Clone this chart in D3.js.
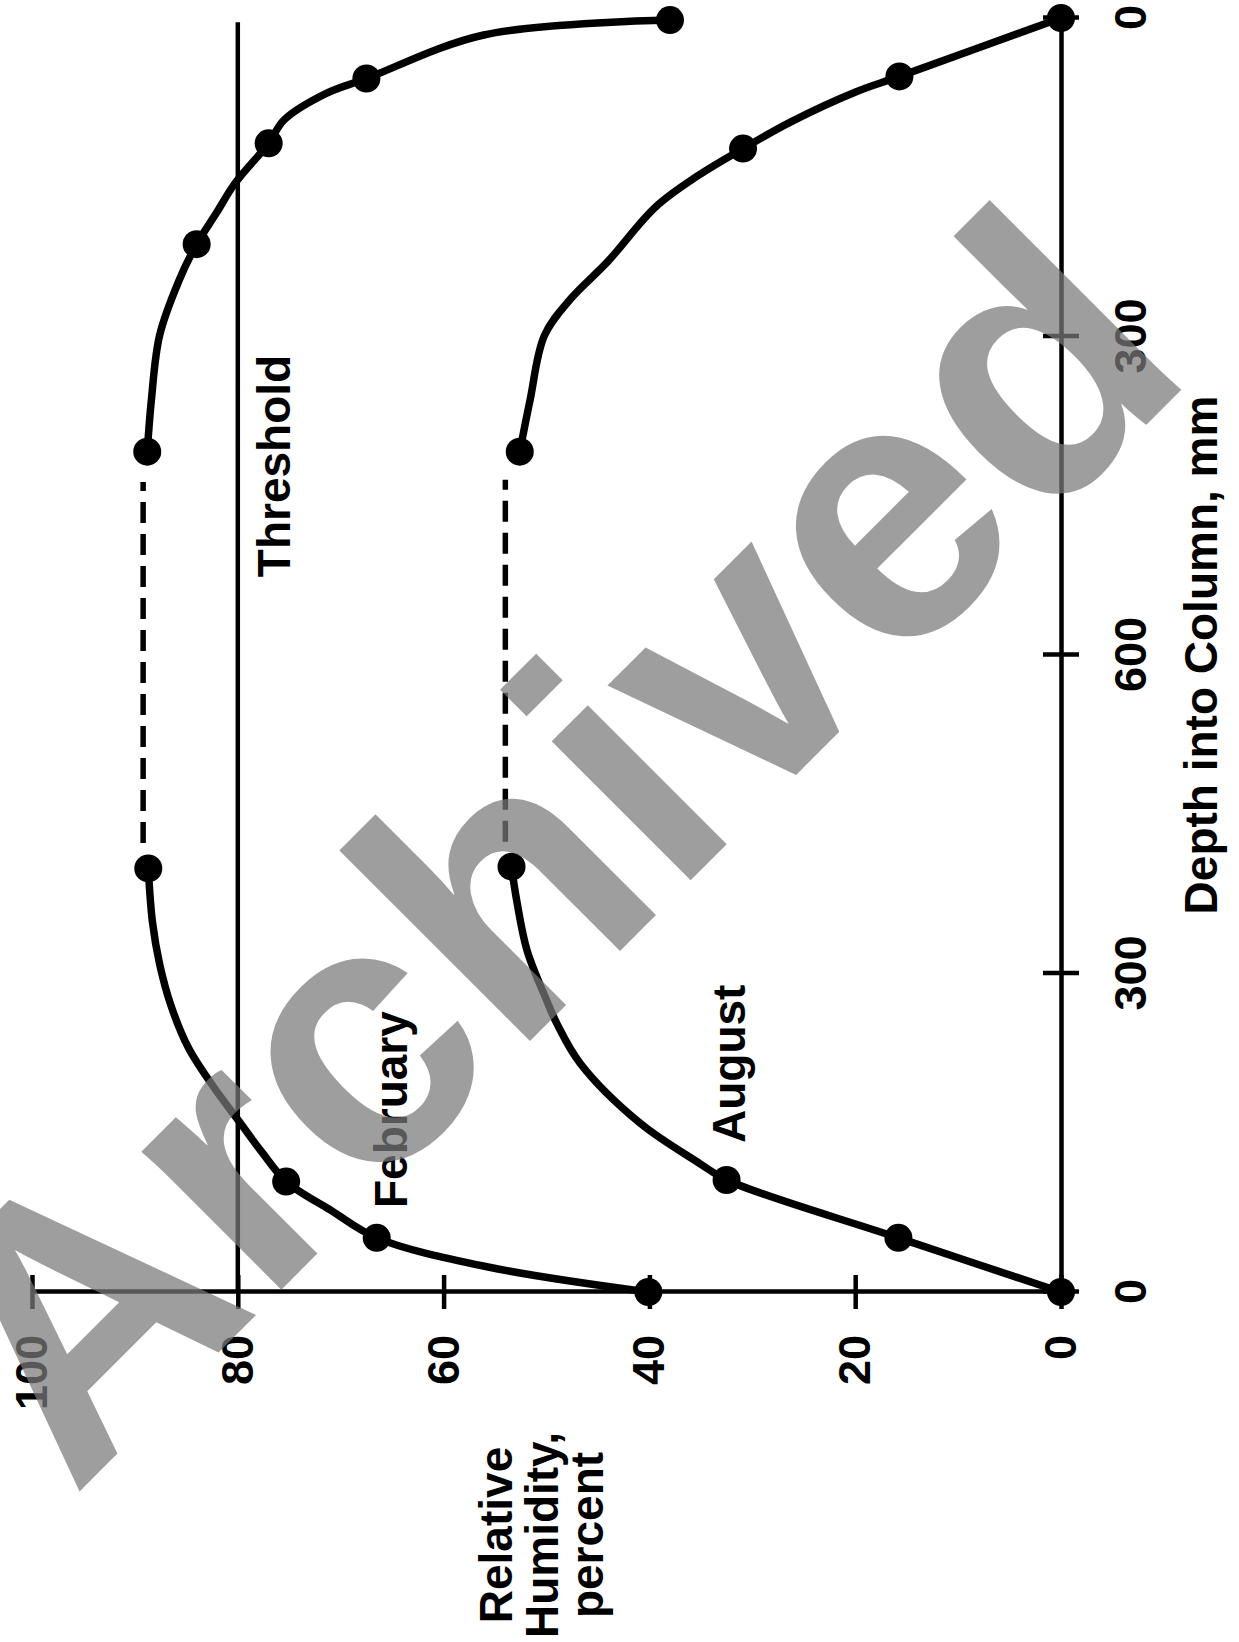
<!DOCTYPE html>
<html>
<head>
<meta charset="utf-8">
<script src="https://cdn.jsdelivr.net/npm/d3@7"></script>
<style>
  html, body { margin: 0; padding: 0; background: #fff; }
  svg { display: block; }
  text { font-family: "Liberation Sans", Arial, Helvetica, sans-serif; font-weight: bold; fill: #000; }
</style>
</head>
<body>
<svg id="chart" width="1239" height="1642"></svg>
<script>
// Position along the column in mm (0 … 1200); the axis is labelled as depth from the nearer end.
const depthTicks = [0, 300, 600, 900, 1200];
const depthTickLabels = ["0", "300", "600", "300", "0"];
const rhTicks = [0, 20, 40, 60, 80, 100];
const rhTickLabels = ["0", "20", "40", "60", "80", "100"];

const thresholdRH = 80;
const thresholdSpan = [0, 1196];

// February profile: [position mm, relative humidity %]
const febNear = [[0, 40.1], [23.8, 55.8], [51, 66.5], [77.2, 71.0], [104, 75.3], [131, 77.6], [161, 79.9],
  [191, 82.2], [230, 84.8], [270, 86.5], [309, 87.6], [349, 88.3], [399, 88.7]];
const febFar = [[791.5, 88.8], [840, 88.4], [901, 87.6], [953, 85.7], [987, 84.0], [1016, 82.1], [1044, 80.3],
  [1082, 77.0], [1104, 75.5], [1129, 71.4], [1143, 67.5], [1184, 56.1], [1198, 38.0]];
const febMeasured = [[0, 40.1], [51, 66.5], [104, 75.3], [399, 88.7], [791.5, 88.8], [987, 84.0], [1082, 77.0],
  [1143, 67.5], [1198, 38.0]];
const febGap = [[423, 89.2], [763, 89.2]];

// August profile
const augNear = [[0, 0], [51, 15.8], [105.5, 32.5], [121, 35.1], [159, 40.9], [215, 46.7], [253, 49.0],
  [275, 50.0], [322, 51.9], [369, 52.9], [400.6, 53.4]];
const augFar = [[791.5, 52.6], [840, 51.6], [901, 50.2], [936, 47.6], [970, 44.1], [1022, 39.4], [1052, 35.2],
  [1077, 30.9], [1102, 26.3], [1130.6, 19.9], [1145, 15.7], [1200, 0]];
const augMeasured = [[0, 0], [51, 15.8], [105.5, 32.5], [400.6, 53.4], [791.5, 52.6], [1077, 30.9],
  [1145, 15.7], [1200, 0]];
const augGap = [[424, 54.0], [765, 54.0]];

const W = 1239, H = 1642;
const svg = d3.select("#chart");

// The whole plot is laid out in a normal frame and then turned a quarter turn counter-clockwise.
const g = svg.append("g").attr("transform", `translate(0,${H}) rotate(-90)`);

const x = d3.scaleLinear().domain([0, 1200]).range([350, 1624]);
const y = d3.scaleLinear().domain([0, 100]).range([1061, 32]);

const axisW = 4.5;

// Depth axis
const gx = g.append("g").attr("transform", `translate(0,${y(0)})`)
  .call(d3.axisBottom(x).tickValues(depthTicks)
    .tickFormat((d, i) => depthTickLabels[i]).tickSizeOuter(0).tickSizeInner(18));
gx.select(".domain").attr("stroke", "#000").attr("stroke-width", axisW);
gx.selectAll(".tick line").attr("y1", -18).attr("y2", 18).attr("stroke", "#000").attr("stroke-width", axisW);
gx.selectAll(".tick text").attr("y", 85).attr("dy", 0)
  .attr("font-size", 45).attr("fill", "#000");

// Relative humidity axis
const gy = g.append("g").attr("transform", `translate(${x(0)},0)`)
  .call(d3.axisLeft(y).tickValues(rhTicks)
    .tickFormat((d, i) => rhTickLabels[i]).tickSizeOuter(0).tickSizeInner(17));
gy.select(".domain").attr("stroke", "#000").attr("stroke-width", axisW);
gy.selectAll(".tick line").attr("x1", -17).attr("x2", 17).attr("stroke", "#000").attr("stroke-width", axisW);
gy.selectAll(".tick text").attr("x", -43).attr("dy", "0.32em")
  .attr("font-size", 45).attr("fill", "#000");
g.selectAll("g").attr("font-family", null);

// Threshold line
g.append("line")
  .attr("x1", x(thresholdSpan[0])).attr("x2", x(thresholdSpan[1]))
  .attr("y1", y(thresholdRH)).attr("y2", y(thresholdRH))
  .attr("stroke", "#000").attr("stroke-width", 4.5);

const line = d3.line().x(d => x(d[0])).y(d => y(d[1])).curve(d3.curveCatmullRom.alpha(0.5));
const straight = d3.line().x(d => x(d[0])).y(d => y(d[1]));

[febNear, febFar, augNear, augFar].forEach(seg => {
  g.append("path").attr("d", line(seg))
    .attr("fill", "none").attr("stroke", "#000").attr("stroke-width", 7.5)
    .attr("stroke-linejoin", "round").attr("stroke-linecap", "round");
});

[febGap, augGap].forEach(seg => {
  g.append("path").attr("d", straight(seg))
    .attr("fill", "none").attr("stroke", "#000").attr("stroke-width", 5.5)
    .attr("stroke-dasharray", "21 11");
});

[...febMeasured, ...augMeasured].forEach(d => {
  g.append("circle").attr("cx", x(d[0])).attr("cy", y(d[1])).attr("r", 14).attr("fill", "#000");
});

// Labels
const fs = 46;
g.append("text").attr("x", 1176).attr("y", 290).attr("text-anchor", "middle").attr("font-size", fs).text("Threshold");
g.append("text").attr("x", 434).attr("y", 407).attr("font-size", fs).text("February");
g.append("text").attr("x", 499).attr("y", 745).attr("font-size", fs).text("August");
g.append("text").attr("x", (x(0) + x(1200)) / 2).attr("y", 1217).attr("text-anchor", "middle")
  .attr("font-size", fs).text("Depth into Column, mm");

const rhTitle = ["Relative", "Humidity,", "percent"];
g.append("text").attr("text-anchor", "middle").attr("font-size", fs)
  .selectAll("tspan").data(rhTitle).join("tspan")
  .attr("x", 107).attr("y", (d, i) => 512 + i * 45.5).text(d => d);

// Archive stamp across the sheet
svg.append("text")
  .attr("transform", "translate(73,1498) rotate(-45)")
  .attr("font-size", 372)
  .style("fill", "#7a7a7a")
  .attr("opacity", 0.72)
  .text("Archived");
</script>
</body>
</html>
